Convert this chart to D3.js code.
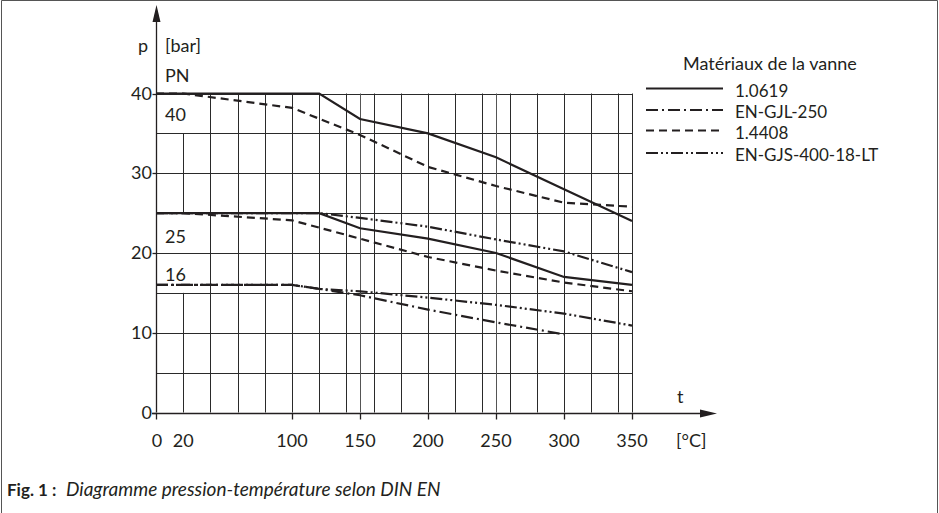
<!DOCTYPE html>
<html>
<head>
<meta charset="utf-8">
<script src="https://cdn.jsdelivr.net/npm/d3@7"></script>
<style>
html,body{margin:0;padding:0;background:#fff;}
svg{display:block;}
text{font-family:Lato,"Open Sans",sans-serif;fill:#231f20;}
</style>
</head>
<body>
<svg id="chart" width="939" height="513"></svg>
<script>
// ---- data ----
const materials = ["1.0619", "EN-GJL-250", "1.4408", "EN-GJS-400-18-LT"];
const legendTitle = "Matériaux de la vanne";
const xTickValues = [0, 100, 150, 200, 250, 300, 350];
const xTickLabels = [0, 20, 100, 150, 200, 250, 300, 350];
const yTickValues = [0, 10, 20, 30, 40];
const xGridValues = [20, 40, 60, 80, 100, 120, 140, 150, 160, 180, 200, 220, 240, 250, 260, 280, 300, 320, 340, 350];
const yGridValues = [5, 10, 15, 20, 25, 30, 35, 40];
const pnLabels = [40, 25, 16];

const m10619_pn40 = [[0,40],[120,40],[150,36.8],[200,35],[250,32],[300,28],[350,24]];
const m10619_pn25 = [[0,25],[120,25],[150,23.1],[200,21.8],[250,20],[300,17],[350,16]];
const m14408_pn40 = [[0,40],[20,40],[100,38.2],[150,34.8],[200,30.8],[250,28.4],[300,26.3],[350,25.8]];
const m14408_pn25 = [[0,25],[20,25],[100,24.1],[150,21.8],[200,19.5],[250,17.8],[300,16.3],[350,15.2]];
const gjl250_pn16 = [[0,16],[100,16],[120,15.5],[150,14.7],[200,12.9],[250,11.3],[300,9.8]];
const gjs400_pn25 = [[0,25],[120,25],[150,24.4],[200,23.3],[250,21.7],[300,20.2],[350,17.6]];
const gjs400_pn16 = [[0,16],[100,16],[120,15.5],[150,15.2],[200,14.4],[250,13.5],[300,12.4],[350,10.9]];

const dashFor = {
  "1.0619": null,
  "EN-GJL-250": "12,4,2,4",
  "1.4408": "8,5",
  "EN-GJS-400-18-LT": "12,3,2,3,2,3"
};
const seriesList = [
  {mat: "1.0619", pts: m10619_pn40},
  {mat: "1.0619", pts: m10619_pn25},
  {mat: "1.4408", pts: m14408_pn40},
  {mat: "1.4408", pts: m14408_pn25},
  {mat: "EN-GJL-250", pts: gjl250_pn16},
  {mat: "EN-GJS-400-18-LT", pts: gjs400_pn25},
  {mat: "EN-GJS-400-18-LT", pts: gjs400_pn16}
];

// ---- drawing ----
const svg = d3.select("#chart");
const ink = "#231f20";
const x = d3.scaleLinear().domain([0, 350]).range([156, 632]);
const y = d3.scaleLinear().domain([0, 40]).range([412.5, 93.5]);

// outer frame
svg.append("path").attr("d", "M1.5,513 V0.5 H937.5 V513")
  .attr("fill", "none").attr("stroke", "#555").attr("stroke-width", 1);

// horizontal grid
svg.append("g").selectAll("line").data(yGridValues).join("line")
  .attr("x1", x(0)).attr("x2", x(350))
  .attr("y1", d => Math.round(y(d)) + 0.5).attr("y2", d => Math.round(y(d)) + 0.5)
  .attr("stroke", "#2a2a2a").attr("stroke-width", 1);

// vertical grid (with gaps for PN labels at 20 °C)
const vSegs = [];
xGridValues.forEach(v => {
  if (v === 20) { vSegs.push([v, 0, 15]); vSegs.push([v, 25, 35]); }
  else vSegs.push([v, 0, 40]);
});
svg.append("g").selectAll("line").data(vSegs).join("line")
  .attr("x1", d => Math.round(x(d[0])) + 0.5).attr("x2", d => Math.round(x(d[0])) + 0.5)
  .attr("y1", d => y(d[1])).attr("y2", d => y(d[2]))
  .attr("stroke", d => (d[0] === 150 || d[0] === 250) ? "#555" : "#2a2a2a")
  .attr("stroke-width", 1);

// axes
const axY = Math.round(y(0)) + 0.5;
svg.append("line").attr("x1", x(0) - 4).attr("x2", 700).attr("y1", axY).attr("y2", axY)
  .attr("stroke", ink).attr("stroke-width", 1.3);
svg.append("path").attr("d", `M700,${axY - 4} L717,${axY} L700,${axY + 4} Z`).attr("fill", ink);
const axX = Math.round(x(0)) + 0.5;
svg.append("line").attr("x1", axX).attr("x2", axX).attr("y1", y(0)).attr("y2", 22)
  .attr("stroke", ink).attr("stroke-width", 1.3);
svg.append("path").attr("d", `M${axX - 4},22 L${axX},5 L${axX + 4},22 Z`).attr("fill", ink);

// x ticks
svg.append("g").selectAll("line").data(xTickValues).join("line")
  .attr("x1", d => Math.round(x(d)) + 0.5).attr("x2", d => Math.round(x(d)) + 0.5)
  .attr("y1", axY).attr("y2", axY + 6).attr("stroke", ink).attr("stroke-width", 1.3);
svg.append("g").selectAll("text").data(xTickLabels).join("text")
  .attr("x", d => x(d) + (d === 0 ? 1 : 0)).attr("y", 447)
  .attr("text-anchor", "middle").attr("font-size", 18).text(d => d);
svg.append("text").attr("x", 676).attr("y", 447).attr("font-size", 18).text("[°C]");
svg.append("text").attr("x", 677).attr("y", 403).attr("font-size", 18).text("t");

// y ticks
svg.append("g").selectAll("line").data(yTickValues).join("line")
  .attr("x1", axX - 4).attr("x2", axX)
  .attr("y1", d => Math.round(y(d)) + 0.5).attr("y2", d => Math.round(y(d)) + 0.5)
  .attr("stroke", ink).attr("stroke-width", 1.3);
svg.append("g").selectAll("text").data(yTickValues).join("text")
  .attr("x", 152).attr("y", d => y(d) + 6)
  .attr("text-anchor", "end").attr("font-size", 18).text(d => d);

svg.append("text").attr("x", 138).attr("y", 52).attr("font-size", 18).text("p");
svg.append("text").attr("x", 165).attr("y", 52).attr("font-size", 18).text("[bar]");
svg.append("text").attr("x", 165).attr("y", 82).attr("font-size", 18).text("PN");
const pnY = {40: 121, 25: 243, 16: 281};
svg.append("g").selectAll("text").data(pnLabels).join("text")
  .attr("x", 165).attr("y", d => pnY[d]).attr("font-size", 18).text(d => d);

// series
const line = d3.line().x(d => x(d[0])).y(d => y(d[1]));
svg.append("g").selectAll("path").data(seriesList).join("path")
  .attr("d", d => line(d.pts))
  .attr("fill", "none").attr("stroke", ink).attr("stroke-width", 2.2)
  .attr("stroke-dasharray", d => dashFor[d.mat]);

// legend
svg.append("text").attr("x", 683).attr("y", 70).attr("font-size", 18).text(legendTitle);
const legY = [88.5, 110, 130.5, 153];
const lg = svg.append("g").selectAll("g").data(materials).join("g");
lg.append("line").attr("x1", 646).attr("x2", 723)
  .attr("y1", (d, i) => legY[i]).attr("y2", (d, i) => legY[i])
  .attr("stroke", ink).attr("stroke-width", 2.2).attr("stroke-dasharray", d => dashFor[d]);
lg.append("text").attr("x", 735).attr("y", (d, i) => legY[i] + 8).attr("font-size", 17).text(d => d);

// caption
svg.append("text").attr("x", 7).attr("y", 496).attr("font-size", 17)
  .attr("font-weight", "bold").text("Fig. 1 :");
svg.append("text").attr("x", 66).attr("y", 496).attr("font-size", 19)
  .attr("font-style", "italic").text("Diagramme pression-température selon DIN EN");
</script>
</body>
</html>
